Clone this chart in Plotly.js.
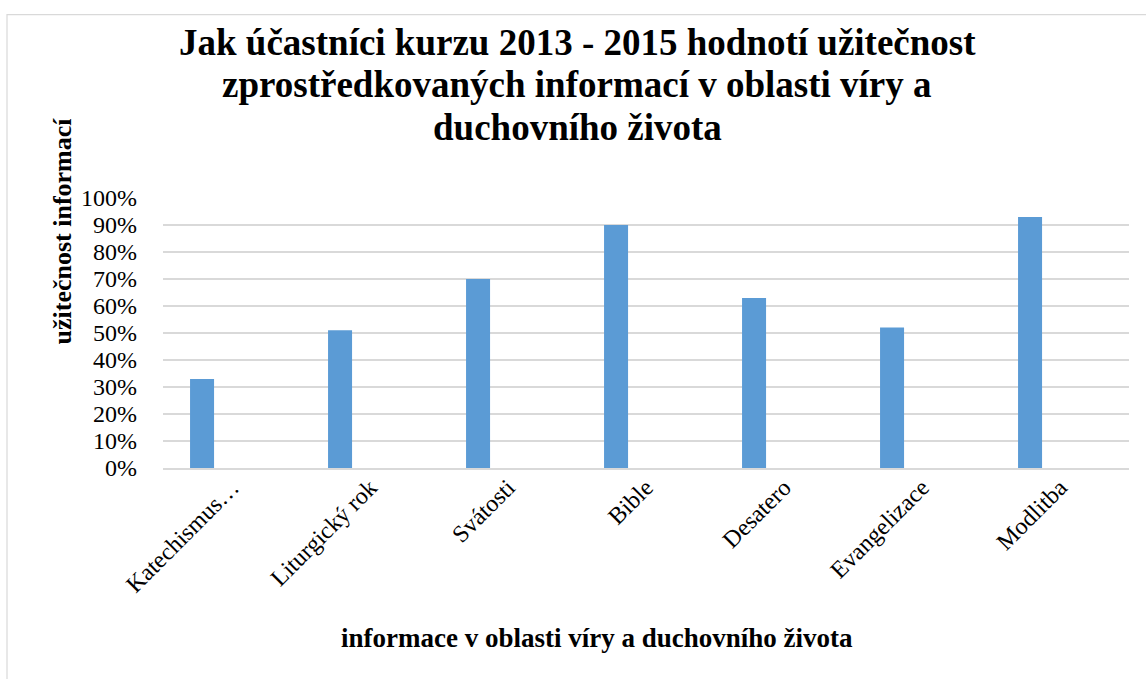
<!DOCTYPE html>
<html>
<head>
<meta charset="utf-8">
<script src="https://cdn.plot.ly/plotly-3.0.1.min.js"></script>
<style>html,body{margin:0;padding:0;background:#fff;}#chart{width:1146px;height:679px;}</style>
</head>
<body>
<div id="chart"></div>
<script>
// Data
const categories = ["Katechismus…", "Liturgický rok", "Svátosti", "Bible", "Desatero", "Evangelizace", "Modlitba"];
const values = [0.33, 0.51, 0.70, 0.90, 0.63, 0.52, 0.93];
const titleLines = ["Jak účastníci kurzu 2013 - 2015 hodnotí užitečnost", "zprostředkovaných informací v oblasti víry a", "duchovního života"];
const xTitle = "informace v oblasti víry a duchovního života";
const yTitle = "užitečnost informací";
const yTickVals = [0, 0.1, 0.2, 0.3, 0.4, 0.5, 0.6, 0.7, 0.8, 0.9, 1.0];

// Layout geometry (pixels)
const W = 1146, H = 679;
const L = 163, R = 17, T = 197.5, B = 211.3;
const PW = W - L - R, PH = H - T - B;
const px = x => (x - L) / PW;
const py = y => (H - B - y) / PH;
const FONT = '"Liberation Serif", "Times New Roman", serif';

const trace = {
  type: 'bar',
  x: categories,
  y: values,
  marker: {color: '#5b9bd5'},
  width: 0.174,
  offset: -0.304,
  hoverinfo: 'skip'
};

const titleCenters = [42, 84, 127];
const annotations = titleLines.map((t, i) => ({
  text: '<b>' + t + '</b>', xref: 'paper', yref: 'paper',
  x: px(577), y: py(titleCenters[i]), xanchor: 'center', yanchor: 'middle',
  showarrow: false, font: {family: FONT, size: 37, color: '#000'}
}));
annotations.push({
  text: '<b>' + xTitle + '</b>', xref: 'paper', yref: 'paper',
  x: px(597), y: py(638), xanchor: 'center', yanchor: 'middle',
  showarrow: false, font: {family: FONT, size: 27, color: '#000'}
});
annotations.push({
  text: '<b>' + yTitle + '</b>', xref: 'paper', yref: 'paper',
  x: px(62), y: py(231), xanchor: 'center', yanchor: 'middle', textangle: -90,
  showarrow: false, font: {family: FONT, size: 26, color: '#000'}
});

const layout = {
  width: W, height: H,
  margin: {l: L, r: R, t: T, b: B, pad: 0},
  paper_bgcolor: '#fff', plot_bgcolor: '#fff',
  showlegend: false,
  font: {family: FONT, color: '#000'},
  xaxis: {
    type: 'category', tickangle: -45, showgrid: false,
    showline: true, linecolor: '#d9d9d9', linewidth: 2,
    ticks: '', ticklabelstandoff: -6,
    tickfont: {family: FONT, size: 24, color: '#000'},
    zeroline: false, fixedrange: true
  },
  yaxis: {
    range: [0, 1], tickvals: yTickVals, tickformat: '.0%',
    showgrid: true, gridcolor: '#d9d9d9', gridwidth: 1.5,
    zeroline: false, showline: false, ticks: '',
    ticklabelstandoff: 25,
    tickfont: {family: FONT, size: 24, color: '#000'}, fixedrange: true
  },
  annotations: annotations,
  shapes: [{
    type: 'rect', xref: 'paper', yref: 'paper',
    x0: px(7), x1: px(1160), y0: py(14), y1: py(700),
    line: {color: '#d9d9d9', width: 1.2}, fillcolor: 'rgba(0,0,0,0)', layer: 'below'
  }]
};

Plotly.newPlot('chart', [trace], layout, {staticPlot: true, displayModeBar: false});
</script>
</body>
</html>
